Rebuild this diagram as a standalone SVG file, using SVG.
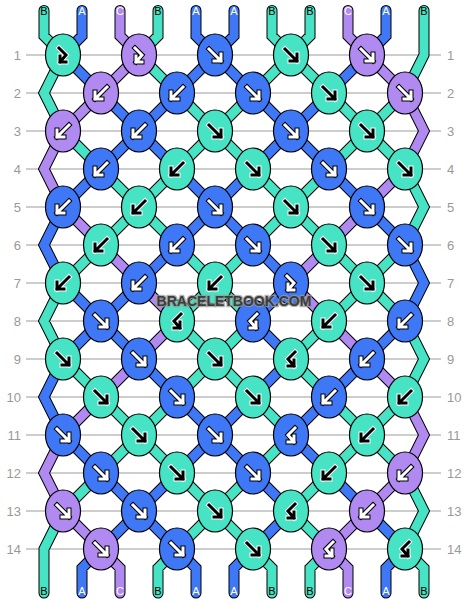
<svg xmlns="http://www.w3.org/2000/svg" width="468" height="604" viewBox="0 0 468 604">
<style>
.grid line{stroke:#bdbdbd;stroke-width:1.5}
.rl{font-family:"Liberation Sans",Arial,sans-serif;font-size:13px;fill:#999}
.sl{font-family:"Liberation Sans",Arial,sans-serif;font-size:11px;text-anchor:middle}
.ol{fill:none;stroke:#000;stroke-width:11;stroke-linejoin:miter;stroke-linecap:round}
.cl{fill:none;stroke-width:9;stroke-linejoin:miter;stroke-linecap:round}
.ct{stroke:#46e3c4}.ca{stroke:#3f78f7}.cp{stroke:#b08af1}
.kt{fill:#46e3c4}.ka{fill:#3f78f7}.kp{fill:#b08af1}
ellipse{stroke:#000;stroke-width:1.2}
.ar{fill:none;stroke-linecap:square;stroke-linejoin:miter}
.ow{stroke:#fff;stroke-width:5}.ib{stroke:#000;stroke-width:3}
.ob{stroke:#000;stroke-width:5}.iw{stroke:#fff;stroke-width:3}
.wm{font-family:"Liberation Sans",Arial,sans-serif;font-size:14px;font-weight:bold;text-anchor:middle;fill:#3c3c3c;stroke:#9a9a9a;stroke-width:2.5;stroke-opacity:0.75;paint-order:stroke}
</style>
<defs>
<path id="sT" d="M44 10.5V36L63 55M158 10.5V36L139 55M272 10.5V36L291 55M310 10.5V36L291 55M424 10.5V55L405 93M63 55L44 93L63 131M139 55L177 93M291 55L253 93M291 55L329 93M177 93L215 131M253 93L215 131M329 93L367 131M405 93L367 131M63 131L101 169M215 131L177 169M215 131L253 169M367 131L329 169M367 131L405 169M101 169L139 207M177 169L139 207M253 169L291 207M329 169L291 207M405 169L424 207L405 245M139 207L101 245M139 207L177 245M291 207L253 245M291 207L329 245M101 245L63 283M177 245L215 283M253 245L215 283M329 245L367 283M405 245L367 283M63 283L44 321L63 359M215 283L177 321M215 283L253 321M367 283L329 321M367 283L405 321M177 321L215 359M253 321L215 359M329 321L291 359M405 321L424 359L405 397M63 359L101 397M215 359L177 397M215 359L253 397M291 359L329 397M101 397L139 435M177 397L139 435M253 397L291 435M329 397L367 435M405 397L367 435M139 435L101 473M139 435L177 473M291 435L253 473M367 435L329 473M367 435L405 473M101 473L63 511M177 473L215 511M253 473L215 511M329 473L291 511M405 473L424 511L405 549M63 511L44 549V593M215 511L177 549M215 511L253 549M291 511L329 549M177 549L158 568V593M253 549L272 568V593M329 549L310 568V593M405 549L424 568V593"/>
<path id="sA" d="M82 10.5V36L63 55M196 10.5V36L215 55M234 10.5V36L215 55M386 10.5V36L367 55M63 55L101 93M215 55L177 93M215 55L253 93M367 55L329 93M101 93L139 131M177 93L139 131M253 93L291 131M329 93L291 131M139 131L101 169M139 131L177 169M291 131L253 169M291 131L329 169M101 169L63 207M177 169L215 207M253 169L215 207M329 169L367 207M63 207L44 245L63 283M215 207L177 245M215 207L253 245M367 207L405 245M177 245L139 283M253 245L291 283M405 245L424 283L405 321M63 283L101 321M139 283L101 321M291 283L253 321M101 321L63 359M101 321L139 359M253 321L291 359M405 321L367 359M63 359L44 397L63 435M139 359L177 397M291 359L253 397M367 359L329 397M177 397L215 435M253 397L215 435M329 397L291 435M63 435L101 473M215 435L177 473M215 435L253 473M291 435L329 473M101 473L139 511M177 473L139 511M253 473L291 511M329 473L367 511M139 511L101 549M139 511L177 549M291 511L253 549M367 511L405 549M101 549L82 568V593M177 549L196 568V593M253 549L234 568V593M405 549L386 568V593"/>
<path id="sP" d="M120 10.5V36L139 55M348 10.5V36L367 55M139 55L101 93M367 55L405 93M101 93L63 131M405 93L424 131L405 169M63 131L44 169L63 207M405 169L367 207M63 207L101 245M367 207L329 245M101 245L139 283M329 245L291 283M139 283L177 321M291 283L329 321M177 321L139 359M329 321L367 359M139 359L101 397M367 359L405 397M101 397L63 435M405 397L424 435L405 473M63 435L44 473L63 511M405 473L367 511M63 511L101 549M367 511L329 549M101 549L120 568V593M329 549L348 568V593"/>
<path id="f" d="M-6-6L6 6M6-1V6H-1"/>
<path id="b" d="M6-6L-6 6M-6-1V6H1"/>
<path id="fb" d="M-4-7L3 0L-3 7M-3 1V7H3"/>
<path id="bf" d="M4-7L-3 0L3 7M3 1V7H-3"/>
<g id="fd"><use href="#f" class="ar ow"/><use href="#f" class="ar ib"/></g>
<g id="fl"><use href="#f" class="ar ob"/><use href="#f" class="ar iw"/></g>
<g id="bd"><use href="#b" class="ar ow"/><use href="#b" class="ar ib"/></g>
<g id="bl"><use href="#b" class="ar ob"/><use href="#b" class="ar iw"/></g>
<g id="fbd"><use href="#fb" class="ar ow"/><use href="#fb" class="ar ib"/></g>
<g id="fbl"><use href="#fb" class="ar ob"/><use href="#fb" class="ar iw"/></g>
<g id="bfd"><use href="#bf" class="ar ow"/><use href="#bf" class="ar ib"/></g>
<g id="bfl"><use href="#bf" class="ar ob"/><use href="#bf" class="ar iw"/></g>
</defs>
<rect width="468" height="604" fill="#fff"/>
<g class="grid">
<line x1="26" y1="55" x2="441" y2="55"/><line x1="26" y1="93" x2="441" y2="93"/><line x1="26" y1="131" x2="441" y2="131"/><line x1="26" y1="169" x2="441" y2="169"/><line x1="26" y1="207" x2="441" y2="207"/><line x1="26" y1="245" x2="441" y2="245"/><line x1="26" y1="283" x2="441" y2="283"/><line x1="26" y1="321" x2="441" y2="321"/><line x1="26" y1="359" x2="441" y2="359"/><line x1="26" y1="397" x2="441" y2="397"/><line x1="26" y1="435" x2="441" y2="435"/><line x1="26" y1="473" x2="441" y2="473"/><line x1="26" y1="511" x2="441" y2="511"/><line x1="26" y1="549" x2="441" y2="549"/>
</g>
<g class="rl" text-anchor="end">
<text x="21" y="59.6">1</text><text x="21" y="97.6">2</text><text x="21" y="135.6">3</text><text x="21" y="173.6">4</text><text x="21" y="211.6">5</text><text x="21" y="249.6">6</text><text x="21" y="287.6">7</text><text x="21" y="325.6">8</text><text x="21" y="363.6">9</text><text x="21" y="401.6">10</text><text x="21" y="439.6">11</text><text x="21" y="477.6">12</text><text x="21" y="515.6">13</text><text x="21" y="553.6">14</text>
</g>
<g class="rl" text-anchor="start">
<text x="447" y="59.6">1</text><text x="447" y="97.6">2</text><text x="447" y="135.6">3</text><text x="447" y="173.6">4</text><text x="447" y="211.6">5</text><text x="447" y="249.6">6</text><text x="447" y="287.6">7</text><text x="447" y="325.6">8</text><text x="447" y="363.6">9</text><text x="447" y="401.6">10</text><text x="447" y="439.6">11</text><text x="447" y="477.6">12</text><text x="447" y="515.6">13</text><text x="447" y="553.6">14</text>
</g>
<g id="connectors">
<use href="#sT" class="ol"/><use href="#sA" class="ol"/><use href="#sP" class="ol"/>
<use href="#sT" class="cl ct"/><use href="#sA" class="cl ca"/><use href="#sP" class="cl cp"/>
</g>
<g class="sl">
<text x="44" y="15" fill="#000">B</text><text x="82" y="15" fill="#fff">A</text><text x="120" y="15" fill="#fff">C</text><text x="158" y="15" fill="#000">B</text><text x="196" y="15" fill="#fff">A</text><text x="234" y="15" fill="#fff">A</text><text x="272" y="15" fill="#000">B</text><text x="310" y="15" fill="#000">B</text><text x="348" y="15" fill="#fff">C</text><text x="386" y="15" fill="#fff">A</text><text x="424" y="15" fill="#000">B</text>
<text x="44" y="595" fill="#000">B</text><text x="82" y="595" fill="#fff">A</text><text x="120" y="595" fill="#fff">C</text><text x="158" y="595" fill="#000">B</text><text x="196" y="595" fill="#fff">A</text><text x="234" y="595" fill="#fff">A</text><text x="272" y="595" fill="#000">B</text><text x="310" y="595" fill="#000">B</text><text x="348" y="595" fill="#fff">C</text><text x="386" y="595" fill="#fff">A</text><text x="424" y="595" fill="#000">B</text>
</g>
<g id="knots">
<g id="k1-1" transform="translate(63 55)"><ellipse class="kt" rx="17.5" ry="21"/><use href="#fbd"/></g>
<g id="k1-2" transform="translate(139 55)"><ellipse class="kp" rx="17.5" ry="21"/><use href="#fbl"/></g>
<g id="k1-3" transform="translate(215 55)"><ellipse class="ka" rx="17.5" ry="21"/><use href="#fl"/></g>
<g id="k1-4" transform="translate(291 55)"><ellipse class="kt" rx="17.5" ry="21"/><use href="#fd"/></g>
<g id="k1-5" transform="translate(367 55)"><ellipse class="kp" rx="17.5" ry="21"/><use href="#fl"/></g>
<g id="k2-1" transform="translate(101 93)"><ellipse class="kp" rx="17.5" ry="21"/><use href="#bl"/></g>
<g id="k2-2" transform="translate(177 93)"><ellipse class="ka" rx="17.5" ry="21"/><use href="#bl"/></g>
<g id="k2-3" transform="translate(253 93)"><ellipse class="ka" rx="17.5" ry="21"/><use href="#fl"/></g>
<g id="k2-4" transform="translate(329 93)"><ellipse class="kt" rx="17.5" ry="21"/><use href="#fd"/></g>
<g id="k2-5" transform="translate(405 93)"><ellipse class="kp" rx="17.5" ry="21"/><use href="#fl"/></g>
<g id="k3-1" transform="translate(63 131)"><ellipse class="kp" rx="17.5" ry="21"/><use href="#bl"/></g>
<g id="k3-2" transform="translate(139 131)"><ellipse class="ka" rx="17.5" ry="21"/><use href="#bl"/></g>
<g id="k3-3" transform="translate(215 131)"><ellipse class="kt" rx="17.5" ry="21"/><use href="#fd"/></g>
<g id="k3-4" transform="translate(291 131)"><ellipse class="ka" rx="17.5" ry="21"/><use href="#fl"/></g>
<g id="k3-5" transform="translate(367 131)"><ellipse class="kt" rx="17.5" ry="21"/><use href="#fd"/></g>
<g id="k4-1" transform="translate(101 169)"><ellipse class="ka" rx="17.5" ry="21"/><use href="#bl"/></g>
<g id="k4-2" transform="translate(177 169)"><ellipse class="kt" rx="17.5" ry="21"/><use href="#bd"/></g>
<g id="k4-3" transform="translate(253 169)"><ellipse class="kt" rx="17.5" ry="21"/><use href="#fd"/></g>
<g id="k4-4" transform="translate(329 169)"><ellipse class="ka" rx="17.5" ry="21"/><use href="#fl"/></g>
<g id="k4-5" transform="translate(405 169)"><ellipse class="kt" rx="17.5" ry="21"/><use href="#fd"/></g>
<g id="k5-1" transform="translate(63 207)"><ellipse class="ka" rx="17.5" ry="21"/><use href="#bl"/></g>
<g id="k5-2" transform="translate(139 207)"><ellipse class="kt" rx="17.5" ry="21"/><use href="#bd"/></g>
<g id="k5-3" transform="translate(215 207)"><ellipse class="ka" rx="17.5" ry="21"/><use href="#fl"/></g>
<g id="k5-4" transform="translate(291 207)"><ellipse class="kt" rx="17.5" ry="21"/><use href="#fd"/></g>
<g id="k5-5" transform="translate(367 207)"><ellipse class="ka" rx="17.5" ry="21"/><use href="#fl"/></g>
<g id="k6-1" transform="translate(101 245)"><ellipse class="kt" rx="17.5" ry="21"/><use href="#bd"/></g>
<g id="k6-2" transform="translate(177 245)"><ellipse class="ka" rx="17.5" ry="21"/><use href="#bl"/></g>
<g id="k6-3" transform="translate(253 245)"><ellipse class="ka" rx="17.5" ry="21"/><use href="#fl"/></g>
<g id="k6-4" transform="translate(329 245)"><ellipse class="kt" rx="17.5" ry="21"/><use href="#fd"/></g>
<g id="k6-5" transform="translate(405 245)"><ellipse class="ka" rx="17.5" ry="21"/><use href="#fl"/></g>
<g id="k7-1" transform="translate(63 283)"><ellipse class="kt" rx="17.5" ry="21"/><use href="#bd"/></g>
<g id="k7-2" transform="translate(139 283)"><ellipse class="ka" rx="17.5" ry="21"/><use href="#bl"/></g>
<g id="k7-3" transform="translate(215 283)"><ellipse class="kt" rx="17.5" ry="21"/><use href="#bd"/></g>
<g id="k7-4" transform="translate(291 283)"><ellipse class="ka" rx="17.5" ry="21"/><use href="#fbl"/></g>
<g id="k7-5" transform="translate(367 283)"><ellipse class="kt" rx="17.5" ry="21"/><use href="#fd"/></g>
<g id="k8-1" transform="translate(101 321)"><ellipse class="ka" rx="17.5" ry="21"/><use href="#fl"/></g>
<g id="k8-2" transform="translate(177 321)"><ellipse class="kt" rx="17.5" ry="21"/><use href="#bfd"/></g>
<g id="k8-3" transform="translate(253 321)"><ellipse class="ka" rx="17.5" ry="21"/><use href="#bfl"/></g>
<g id="k8-4" transform="translate(329 321)"><ellipse class="kt" rx="17.5" ry="21"/><use href="#bd"/></g>
<g id="k8-5" transform="translate(405 321)"><ellipse class="ka" rx="17.5" ry="21"/><use href="#bl"/></g>
<g id="k9-1" transform="translate(63 359)"><ellipse class="kt" rx="17.5" ry="21"/><use href="#fd"/></g>
<g id="k9-2" transform="translate(139 359)"><ellipse class="ka" rx="17.5" ry="21"/><use href="#fl"/></g>
<g id="k9-3" transform="translate(215 359)"><ellipse class="kt" rx="17.5" ry="21"/><use href="#fd"/></g>
<g id="k9-4" transform="translate(291 359)"><ellipse class="kt" rx="17.5" ry="21"/><use href="#bfd"/></g>
<g id="k9-5" transform="translate(367 359)"><ellipse class="ka" rx="17.5" ry="21"/><use href="#bl"/></g>
<g id="k10-1" transform="translate(101 397)"><ellipse class="kt" rx="17.5" ry="21"/><use href="#fd"/></g>
<g id="k10-2" transform="translate(177 397)"><ellipse class="ka" rx="17.5" ry="21"/><use href="#fl"/></g>
<g id="k10-3" transform="translate(253 397)"><ellipse class="kt" rx="17.5" ry="21"/><use href="#fd"/></g>
<g id="k10-4" transform="translate(329 397)"><ellipse class="ka" rx="17.5" ry="21"/><use href="#bl"/></g>
<g id="k10-5" transform="translate(405 397)"><ellipse class="kt" rx="17.5" ry="21"/><use href="#bd"/></g>
<g id="k11-1" transform="translate(63 435)"><ellipse class="ka" rx="17.5" ry="21"/><use href="#fl"/></g>
<g id="k11-2" transform="translate(139 435)"><ellipse class="kt" rx="17.5" ry="21"/><use href="#fd"/></g>
<g id="k11-3" transform="translate(215 435)"><ellipse class="ka" rx="17.5" ry="21"/><use href="#fl"/></g>
<g id="k11-4" transform="translate(291 435)"><ellipse class="ka" rx="17.5" ry="21"/><use href="#bfl"/></g>
<g id="k11-5" transform="translate(367 435)"><ellipse class="kt" rx="17.5" ry="21"/><use href="#bd"/></g>
<g id="k12-1" transform="translate(101 473)"><ellipse class="ka" rx="17.5" ry="21"/><use href="#fl"/></g>
<g id="k12-2" transform="translate(177 473)"><ellipse class="kt" rx="17.5" ry="21"/><use href="#fd"/></g>
<g id="k12-3" transform="translate(253 473)"><ellipse class="ka" rx="17.5" ry="21"/><use href="#fl"/></g>
<g id="k12-4" transform="translate(329 473)"><ellipse class="kt" rx="17.5" ry="21"/><use href="#bd"/></g>
<g id="k12-5" transform="translate(405 473)"><ellipse class="kp" rx="17.5" ry="21"/><use href="#bl"/></g>
<g id="k13-1" transform="translate(63 511)"><ellipse class="kp" rx="17.5" ry="21"/><use href="#fl"/></g>
<g id="k13-2" transform="translate(139 511)"><ellipse class="ka" rx="17.5" ry="21"/><use href="#fl"/></g>
<g id="k13-3" transform="translate(215 511)"><ellipse class="kt" rx="17.5" ry="21"/><use href="#fd"/></g>
<g id="k13-4" transform="translate(291 511)"><ellipse class="kt" rx="17.5" ry="21"/><use href="#bfd"/></g>
<g id="k13-5" transform="translate(367 511)"><ellipse class="kp" rx="17.5" ry="21"/><use href="#bl"/></g>
<g id="k14-1" transform="translate(101 549)"><ellipse class="kp" rx="17.5" ry="21"/><use href="#fl"/></g>
<g id="k14-2" transform="translate(177 549)"><ellipse class="ka" rx="17.5" ry="21"/><use href="#fl"/></g>
<g id="k14-3" transform="translate(253 549)"><ellipse class="kt" rx="17.5" ry="21"/><use href="#fd"/></g>
<g id="k14-4" transform="translate(329 549)"><ellipse class="kp" rx="17.5" ry="21"/><use href="#bfl"/></g>
<g id="k14-5" transform="translate(405 549)"><ellipse class="kt" rx="17.5" ry="21"/><use href="#bfd"/></g>
</g>
<text class="wm" x="234" y="306">BRACELETBOOK.COM</text>
</svg>
